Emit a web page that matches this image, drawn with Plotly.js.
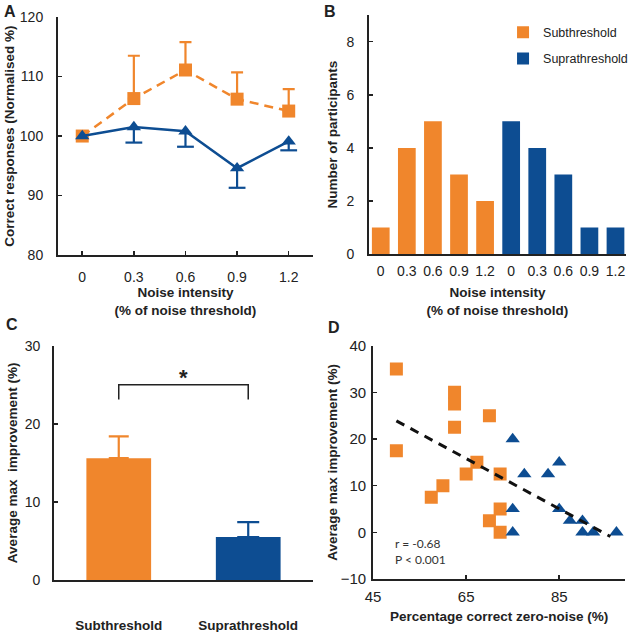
<!DOCTYPE html>
<html>
<head>
<meta charset="utf-8">
<script src="https://cdn.plot.ly/plotly-3.0.1.min.js"></script>
<style>
  html, body { margin: 0; padding: 0; background: #fff; }
  #myPlot { width: 640px; height: 632px; }
</style>
</head>
<body>
<div id="myPlot"></div>
<script>
// panel A - normalised correct responses
var noiseLevels = ['0', '0.3', '0.6', '0.9', '1.2'];
var subMean = [100, 106.3, 111.1, 106.2, 104.2];
var subErr = [0, 7.2, 4.7, 4.5, 3.7];
var supraMean = [100, 101.5, 100.8, 94.6, 99.1];
var supraErr = [0, 2.6, 2.6, 3.3, 1.5];

// panel B - number of participants
var subCounts = [1, 4, 5, 3, 2];
var supraCounts = [5, 4, 3, 1, 1];
var subPos = [0, 1, 2, 3, 4];
var supraPos = [5, 6, 7, 8, 9];
var histTicks = ['0', '0.3', '0.6', '0.9', '1.2', '0', '0.3', '0.6', '0.9', '1.2'];

// panel C - average max improvement
var groups = ['Subthreshold', 'Suprathreshold'];
var improveMean = [15.6, 5.5];
var improveErr = [2.8, 1.9];
var bracketX = ['Subthreshold', 'Subthreshold', 'Suprathreshold', 'Suprathreshold'];
var bracketY = [23.1, 25, 25, 23.1];

// panel D - correct zero-noise vs improvement
var subX = [50, 50, 62.5, 62.5, 62.5, 70, 67.3, 65, 60, 57.5, 72.3, 72.3, 70, 72.3];
var subY = [35, 17.5, 30, 27.5, 22.5, 25, 15, 12.5, 10, 7.5, 12.5, 5, 2.5, 0];
var supraX = [75, 77.5, 82.6, 85, 75, 75, 85, 87.3, 90, 90, 92.3, 97.3];
var supraY = [20, 12.5, 12.5, 15, 5, 0, 5, 2.5, 2.5, 0, 0, 0];
var fitX = [50, 96];
var fitY = [23.9, -0.9];

var orange = '#F0862C';
var blue = '#0D4D92';
var ink = '#222222';
var fam = 'Liberation Sans, Arial, sans-serif';

// blue error bars hang below the triangles, so draw them from the lower end up
var lowX = [], lowY = [], lowErr = [];
for (var i = 0; i < noiseLevels.length; i++) {
  if (supraErr[i] > 0) {
    lowX.push(noiseLevels[i]);
    lowY.push(supraMean[i] - supraErr[i]);
    lowErr.push(supraErr[i]);
  }
}
var zeros = noiseLevels.map(function () { return 0; });

var data = [
  {x: lowX, y: lowY, xaxis: 'x', yaxis: 'y', type: 'scatter', mode: 'markers',
   marker: {symbol: 'line-ew', size: 12, line: {color: blue, width: 2.2}},
   error_y: {type: 'data', symmetric: false, array: lowErr, arrayminus: lowErr.map(function () { return 0; }),
             color: blue, thickness: 2.2, width: 0},
   showlegend: false},
  {x: noiseLevels, y: subMean, xaxis: 'x', yaxis: 'y', type: 'scatter', mode: 'lines+markers',
   line: {color: orange, width: 2.5, dash: '9px,6px'},
   marker: {symbol: 'square', size: 13, color: orange},
   error_y: {type: 'data', symmetric: false, array: subErr, arrayminus: zeros,
             color: orange, thickness: 2.2, width: 6},
   showlegend: false},
  {x: noiseLevels, y: supraMean, xaxis: 'x', yaxis: 'y', type: 'scatter', mode: 'lines+markers',
   line: {color: blue, width: 2.5},
   marker: {symbol: 'triangle-up', size: 12.5, color: blue},
   showlegend: false},

  {x: subPos, y: subCounts, xaxis: 'x2', yaxis: 'y2', type: 'bar', width: 0.68,
   marker: {color: orange}, name: 'Subthreshold', legendgroup: 'a'},
  {x: supraPos, y: supraCounts, xaxis: 'x2', yaxis: 'y2', type: 'bar', width: 0.68,
   marker: {color: blue}, name: 'Suprathreshold', legendgroup: 'b'},

  {x: [groups[0]], y: [improveMean[0]], xaxis: 'x3', yaxis: 'y3', type: 'bar', width: 0.5,
   marker: {color: orange},
   error_y: {type: 'data', symmetric: false, array: [improveErr[0]], arrayminus: [0],
             color: orange, thickness: 2.2, width: 10},
   showlegend: false},
  {x: [groups[1]], y: [improveMean[1]], xaxis: 'x3', yaxis: 'y3', type: 'bar', width: 0.5,
   marker: {color: blue},
   error_y: {type: 'data', symmetric: false, array: [improveErr[1]], arrayminus: [0],
             color: blue, thickness: 2.2, width: 11},
   showlegend: false},
  {x: bracketX, y: bracketY, xaxis: 'x3', yaxis: 'y3', type: 'scatter', mode: 'lines',
   line: {color: ink, width: 1.5}, showlegend: false, hoverinfo: 'skip'},

  {x: subX, y: subY, xaxis: 'x4', yaxis: 'y4', type: 'scatter', mode: 'markers',
   marker: {symbol: 'square', size: 13, color: orange}, showlegend: false},
  {x: supraX, y: supraY, xaxis: 'x4', yaxis: 'y4', type: 'scatter', mode: 'markers',
   marker: {symbol: 'triangle-up', size: 12.5, color: blue}, showlegend: false},
  {x: fitX, y: fitY, xaxis: 'x4', yaxis: 'y4', type: 'scatter', mode: 'lines',
   line: {color: '#111', width: 3, dash: '9px,7px'}, showlegend: false}
];

function axisBase(extra) {
  var a = {
    showline: true, linecolor: ink, linewidth: 2,
    ticks: 'inside', ticklen: 4, tickwidth: 1.5, tickcolor: ink,
    tickfont: {family: fam, size: 14, color: ink},
    showgrid: false, zeroline: false, automargin: false, fixedrange: true
  };
  for (var k in extra) a[k] = extra[k];
  return a;
}

function boldTitle(t, s) {
  return {text: t, font: {family: fam, size: 13.5, color: ink, weight: 'bold'}, standoff: s};
}

var layout = {
  width: 640, height: 632,
  margin: {l: 0, r: 0, t: 0, b: 0},
  paper_bgcolor: '#fff', plot_bgcolor: 'rgba(0,0,0,0)',
  font: {family: fam, color: ink},
  barmode: 'overlay',
  showlegend: true,
  legend: {x: 0.786, y: 0.972, xanchor: 'left', yanchor: 'top',
           font: {family: fam, size: 12.5, color: ink}, bgcolor: 'rgba(0,0,0,0)',
           itemwidth: 30, tracegroupgap: 7, traceorder: 'grouped'},

  xaxis: axisBase({domain: [0.0906, 0.489], anchor: 'y', type: 'category', range: [-0.47, 4.47],
                   categoryorder: 'array', categoryarray: noiseLevels,
                   ticklabelstandoff: 8, title: boldTitle('Noise intensity<br>(% of noise threshold)', 4)}),
  yaxis: axisBase({domain: [0.5965, 0.973], anchor: 'x', range: [80, 120], dtick: 10,
                   ticklabelstandoff: 10, title: boldTitle('Correct responses (Normalised %)', 2)}),

  xaxis2: axisBase({domain: [0.5766, 0.978], anchor: 'y2', range: [-0.45, 9.4],
                    tickvals: subPos.concat(supraPos), ticktext: histTicks, ticks: '',
                    ticklabelstandoff: 3, title: boldTitle('Noise intensity<br>(% of noise threshold)', 10)}),
  yaxis2: axisBase({domain: [0.598, 0.976], anchor: 'x2', range: [0, 9], dtick: 2,
                    ticklabelstandoff: 10, title: boldTitle('Number of participants', 6)}),

  xaxis3: axisBase({domain: [0.0844, 0.489], anchor: 'y3', type: 'category', range: [-0.5, 1.5],
                    categoryorder: 'array', categoryarray: groups,
                    ticks: '', ticklabelstandoff: 32,
                    tickfont: {family: fam, size: 13.5, color: ink, weight: 'bold'}}),
  yaxis3: axisBase({domain: [0.0823, 0.453], anchor: 'x3', range: [0, 30], dtick: 10,
                    ticklabelstandoff: 9, title: boldTitle('Average max  improvement (%)', 4)}),

  xaxis4: axisBase({domain: [0.583, 0.977], anchor: 'y4', range: [45, 99.2], dtick: 20, tick0: 45,
                    ticklabelstandoff: 3, tickfont: {family: fam, size: 15, color: ink},
                    title: boldTitle('Percentage correct zero-noise (%)', 8)}),
  yaxis4: axisBase({domain: [0.0839, 0.453], anchor: 'x4', range: [-10, 40], dtick: 10,
                    ticklabelstandoff: 2, tickfont: {family: fam, size: 15, color: ink},
                    title: boldTitle('Average max improvement (%)', 0)}),

  annotations: [
    {text: '<b>A</b>', xref: 'paper', yref: 'paper', x: 0.003, y: 0.998, xanchor: 'left', yanchor: 'top',
     showarrow: false, font: {family: fam, size: 16, color: ink}},
    {text: '<b>B</b>', xref: 'paper', yref: 'paper', x: 0.503, y: 0.998, xanchor: 'left', yanchor: 'top',
     showarrow: false, font: {family: fam, size: 16, color: ink}},
    {text: '<b>C</b>', xref: 'paper', yref: 'paper', x: 0.006, y: 0.503, xanchor: 'left', yanchor: 'top',
     showarrow: false, font: {family: fam, size: 16, color: ink}},
    {text: '<b>D</b>', xref: 'paper', yref: 'paper', x: 0.51, y: 0.499, xanchor: 'left', yanchor: 'top',
     showarrow: false, font: {family: fam, size: 16, color: ink}},
    {text: '<b>*</b>', xref: 'x3', yref: 'y3', x: 0.5, y: 24.1, yanchor: 'bottom', showarrow: false,
     font: {family: fam, size: 22, color: ink}},
    {text: 'r = -0.68<br>P < 0.001', xref: 'paper', yref: 'paper', x: 0.614, y: 0.127,
     xanchor: 'left', yanchor: 'middle', align: 'left', showarrow: false,
     font: {family: 'Lato, Open Sans, sans-serif', size: 12, color: '#333'}}
  ]
};

Plotly.newPlot('myPlot', data, layout, {staticPlot: true});
</script>
</body>
</html>
